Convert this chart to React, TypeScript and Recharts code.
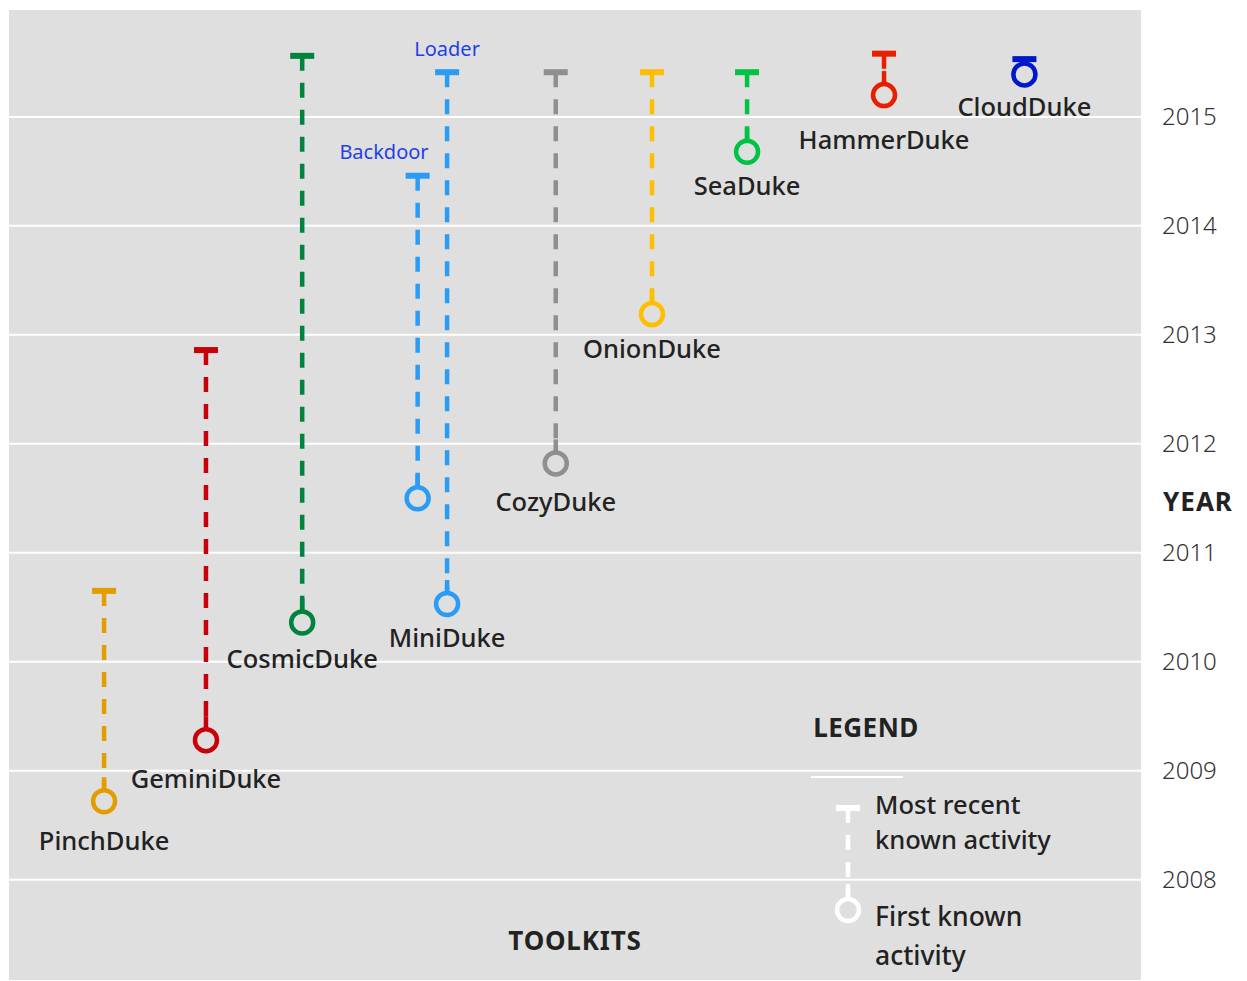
import React from 'react';
import { ComposedChart, Scatter, XAxis, YAxis, CartesianGrid } from 'recharts';

// toolkit timelines (first / most recent known activity, in years)
const toolkits = ['PinchDuke', 'GeminiDuke', 'CosmicDuke', 'MiniDuke', 'MiniDuke', 'CozyDuke', 'OnionDuke', 'SeaDuke', 'HammerDuke', 'CloudDuke'];
const components = ['', '', '', 'Backdoor', 'Loader', '', '', '', '', ''];
const slots = [0.84, 1.74, 2.59, 3.61, 3.87, 4.83, 5.68, 6.52, 7.73, 8.97];
const firstSeen = [2008.72, 2009.28, 2010.36, 2011.5, 2010.53, 2011.82, 2013.19, 2014.68, 2015.2, 2015.39];
const lastSeen = [2010.65, 2012.86, 2015.56, 2014.46, 2015.41, 2015.41, 2015.41, 2015.41, 2015.58, 2015.53];
const years = [2008, 2009, 2010, 2011, 2012, 2013, 2014, 2015];

const COLORS = ['#e39d00', '#c8000a', '#00843d', '#2b9cf5', '#2b9cf5', '#8f8f8f', '#ffbf00', '#00c244', '#e81e00', '#0018cc'];
// distance from circle centre to name label centre
const NAME_DY: Record<string, number> = {
  PinchDuke: 39, GeminiDuke: 38, CosmicDuke: 36, MiniDuke: 33, CozyDuke: 38,
  OnionDuke: 34, SeaDuke: 33, HammerDuke: 44, CloudDuke: 32,
};
const BG = '#dfdfdf';
const FONT = '"Noto Sans", sans-serif';

const W = 1239;
const H = 973;
const M = { top: 1, right: 0, bottom: 0, left: 1 };
const Y_DOMAIN: [number, number] = [2007.07, 2015.99];
const PX_PER_YEAR = (H - M.top - M.bottom) / (Y_DOMAIN[1] - Y_DOMAIN[0]);

// name goes under the earliest line of each toolkit
const showName = toolkits.map((t, i) =>
  toolkits.every((o, j) => o !== t || firstSeen[j] >= firstSeen[i])
);

const series = toolkits.map((t, i) => ({
  name: t,
  component: components[i],
  color: COLORS[i],
  showName: showName[i],
  data: [
    { x: slots[i], y: lastSeen[i], kind: 'last', span: lastSeen[i] - firstSeen[i] },
    { x: slots[i], y: firstSeen[i], kind: 'first', span: lastSeen[i] - firstSeen[i] },
  ],
}));

const R = 11;

const Glyph = (props: any) => {
  const { cx, cy, payload, color, s } = props;
  if (cx == null || cy == null) return null;
  if (payload.kind === 'last') {
    const sub = s.component;
    return (
      <g>
        <rect x={cx - 12} y={cy - 3} width={24} height={6} fill={color} />
        {sub && (
          <text
            x={sub === 'Backdoor' ? cx + 11 : cx}
            y={cy - 24}
            textAnchor={sub === 'Backdoor' ? 'end' : 'middle'}
            dominantBaseline="central"
            fill="#1f3fe6"
            fontSize={20}
            fontFamily={FONT}
          >
            {sub}
          </text>
        )}
      </g>
    );
  }
  const gap = payload.span * PX_PER_YEAR;
  const stem = Math.min(13, gap - R - 6);
  return (
    <g>
      {stem > 0 && (
        <line x1={cx} x2={cx} y1={cy - R} y2={cy - R - stem} stroke={color} strokeWidth={4.5} />
      )}
      <circle cx={cx} cy={cy} r={R} fill={BG} stroke={color} strokeWidth={4.5} />
      {s.showName && (
        <text
          x={cx}
          y={cy + (NAME_DY[s.name] ?? 36)}
          textAnchor="middle"
          dominantBaseline="central"
          fill="#222"
          fontSize={25.5}
          fontWeight={500}
          fontFamily={FONT}
        >
          {s.name}
        </text>
      )}
    </g>
  );
};

const YearTick = (props: any) => {
  const { x, y, payload } = props;
  return (
    <text x={x} y={y - 1} textAnchor="start" dominantBaseline="central" fill="#333" fontSize={24} fontWeight={300} fontFamily={FONT}>
      {payload.value}
    </text>
  );
};

const Overlay = () => (
  <svg width={W} height={H} style={{ position: 'absolute', left: 0, top: 0, pointerEvents: 'none' }}>
    <g fontSize={26} fontWeight={700} fill="#222" fontFamily={FONT} textAnchor="middle" dominantBaseline="central">
      <text x={1190} y={493} letterSpacing={1}>YEAR</text>
      <text x={567} y={932} letterSpacing={0.8}>TOOLKITS</text>
      <text x={858} y={719} letterSpacing={0.5}>LEGEND</text>
    </g>
    <line x1={803} x2={895} y1={769} y2={769} stroke="#fff" strokeWidth={2} />
    <line x1={840} x2={840} y1={800} y2={885} stroke="#fff" strokeWidth={4.5} strokeDasharray="15 12" />
    <line x1={840} x2={840} y1={876} y2={891} stroke="#fff" strokeWidth={4.5} />
    <rect x={828} y={797} width={24} height={6} fill="#fff" />
    <circle cx={840} cy={902} r={R} fill={BG} stroke="#fff" strokeWidth={4.5} />
    <g fontWeight={500} fill="#222" fontFamily={FONT} dominantBaseline="central">
      <text x={867} y={796} fontSize={25.5}>Most recent</text>
      <text x={867} y={831} fontSize={25.5}>known activity</text>
      <text x={867} y={908} fontSize={26.5}>First known</text>
      <text x={867} y={947} fontSize={26.5}>activity</text>
    </g>
  </svg>
);

export default function App() {
  return (
    <div style={{ position: 'relative', width: W, height: H }}>
      <ComposedChart width={W} height={H} margin={M}>
        <CartesianGrid horizontal vertical={false} stroke="#fff" strokeWidth={2} fill={BG} />
        <XAxis type="number" dataKey="x" domain={[0, 10]} hide allowDataOverflow />
        <YAxis
          type="number"
          dataKey="y"
          orientation="right"
          width={106}
          domain={Y_DOMAIN}
          ticks={years}
          allowDataOverflow
          axisLine={false}
          tickLine={false}
          tickSize={0}
          tickMargin={21}
          tick={<YearTick />}
        />
        {series.map((s) => (
          <Scatter
            key={s.name + s.component}
            data={s.data}
            fill={s.color}
            isAnimationActive={false}
            line={{ stroke: s.color, strokeWidth: 4.5, strokeDasharray: '15 12' }}
            shape={(p: any) => <Glyph {...p} color={s.color} s={s} />}
          />
        ))}
      </ComposedChart>
      <Overlay />
    </div>
  );
}
